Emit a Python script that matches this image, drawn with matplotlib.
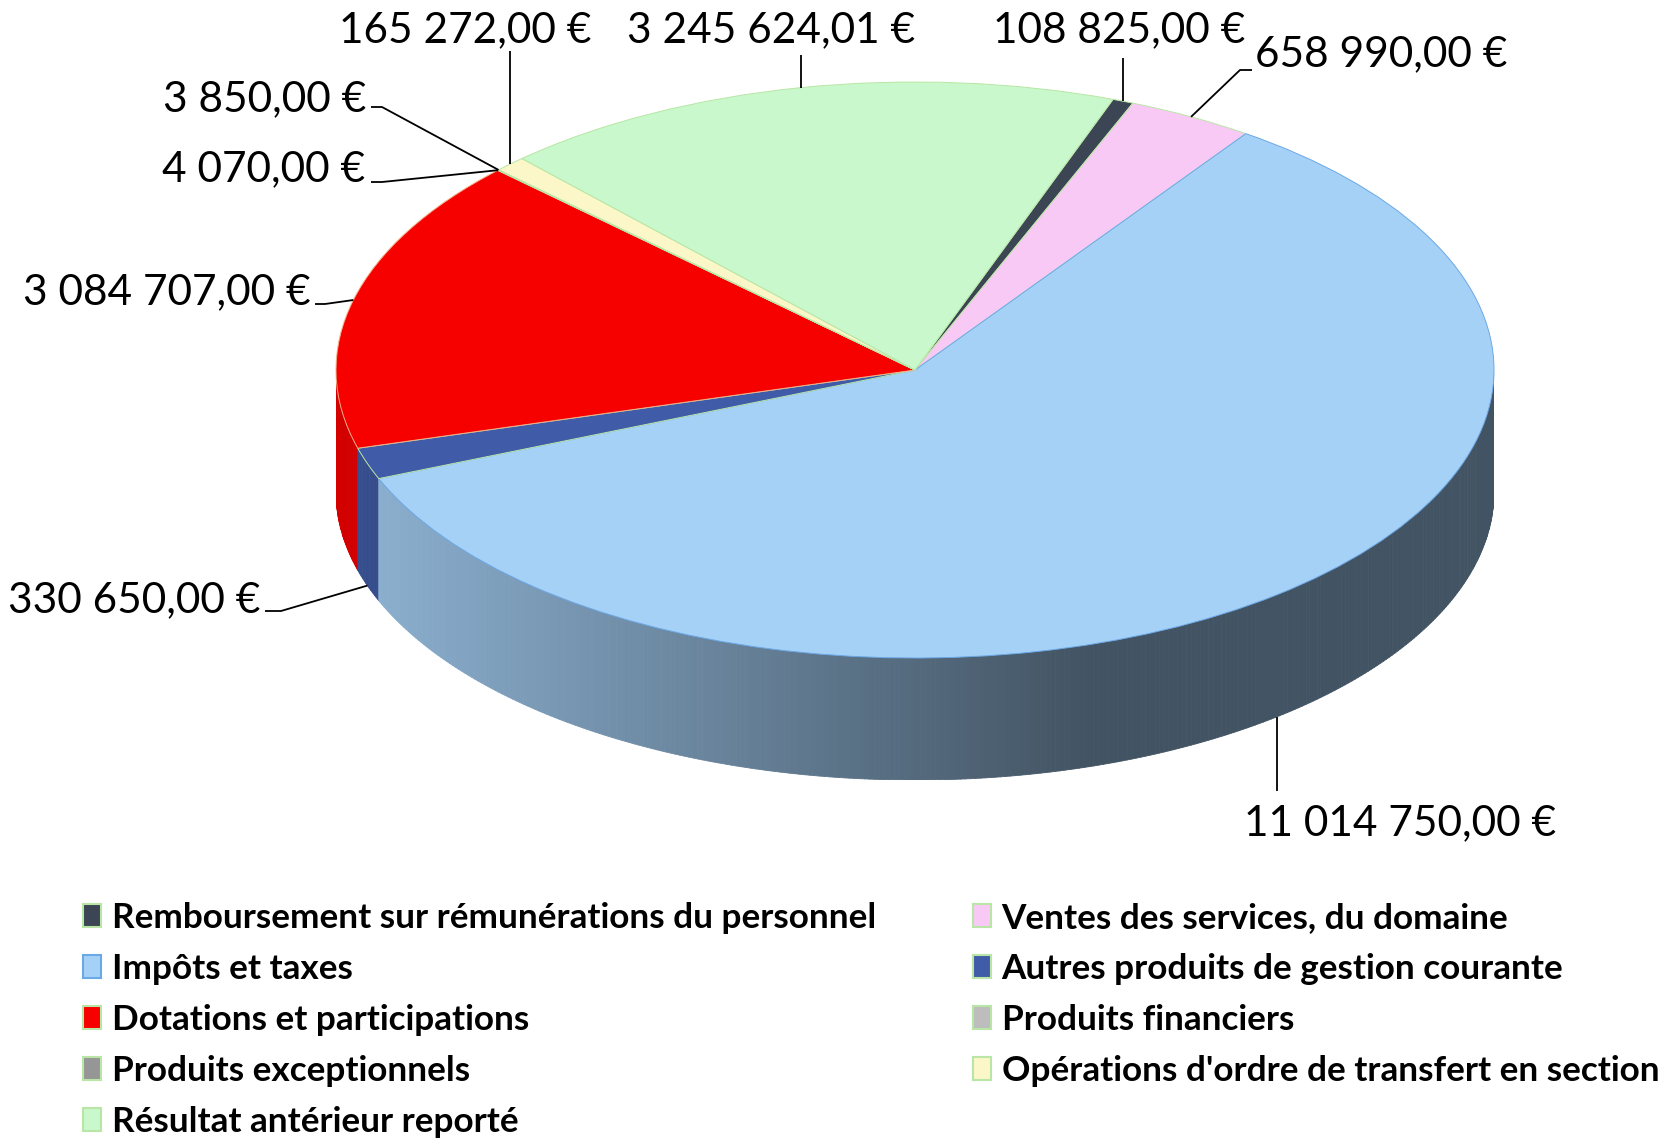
import numpy as np
import matplotlib
matplotlib.use("Agg")
import matplotlib.pyplot as plt
from matplotlib.collections import PolyCollection
from matplotlib.patches import Patch
from matplotlib.colors import to_rgb
from matplotlib.font_manager import FontProperties

# ---------------- data ----------------
categories = [
    "Remboursement sur rémunérations du personnel",
    "Ventes des services, du domaine",
    "Impôts et taxes",
    "Autres produits de gestion courante",
    "Dotations et participations",
    "Produits financiers",
    "Produits exceptionnels",
    "Opérations d'ordre de transfert en section",
    "Résultat antérieur reporté",
]
values = [108825.00, 658990.00, 11014750.00, 330650.00, 3084707.00,
          4070.00, 3850.00, 165272.00, 3245624.01]
colors = ["#3c4553", "#f9c9f5", "#a6d1f7", "#405ca8", "#f70000",
          "#bdbdbd", "#969696", "#fbf7c8", "#c8f8cb"]
edge_colors = ["#b9e6a6", "#b9e6a6", "#6aa8e6", "#b9e6a6", "#f2b08a",
               "#b9e6a6", "#b9e6a6", "#b9e6a6", "#b9e6a6"]
legend_order = [0, 2, 4, 6, 8, 1, 3, 5, 7]


def fmt_eur(v):
    s = f"{v:,.2f}".replace(",", " ").replace(".", ",")
    return s + " €"


# ---------------- layout ----------------
W, H = 1664, 1141
CX, CY, A, B, DEPTH = 915, 370, 579, 288, 122
START = 70

# label layout: text position (px, top-left origin), alignment, leader path
label_layout = [
    dict(xy=(1119, 42.5), ha="center", path=[(None, 58)]),
    dict(xy=(1255, 66), ha="left", path=[(1240, 70), (1252, 70)]),
    dict(xy=(1400, 835), ha="center", path=[(None, 791)]),
    dict(xy=(260, 612), ha="right", path=[(281, 611), (265, 611)]),
    dict(xy=(311, 304.6), ha="right", path=[(325, 304), (315, 304)]),
    dict(xy=(365, 181.5), ha="right", path=[(382, 182), (371, 182)]),
    dict(xy=(366, 111), ha="right", path=[(382, 107), (371, 107)]),
    dict(xy=(465.5, 42.5), ha="center", path=[(None, 51)]),
    dict(xy=(771, 42.5), ha="center", path=[(None, 55)]),
]

fig = plt.figure(figsize=(W / 100, H / 100), dpi=100)
d = DEPTH / B
ax = fig.add_axes([(CX - A) / W, (H - (CY + B + DEPTH)) / H,
                   2 * A / W, (2 * B + DEPTH) / H])

wedges, _ = ax.pie(values, colors=colors, startangle=START,
                   counterclock=False, radius=1,
                   wedgeprops=dict(linewidth=0.7))
for w, ec in zip(wedges, edge_colors):
    w.set_edgecolor(ec)
    w.set_zorder(2)
ax.set_aspect("auto")
ax.set_xlim(-1, 1)
ax.set_ylim(-1 - d, 1)
ax.axis("off")

# ---------------- side wall (front half) ----------------
def wedge_at(t):
    for i, w in enumerate(wedges):
        span = w.theta2 - w.theta1
        if (t - w.theta1) % 360 < span:
            return i
    return 0


def shade(u):
    return 0.86 - (0.86 - 0.40) * min(u / 0.65, 1.0)


breaks = set(np.arange(180, 360.001, 0.5).tolist())
for w in wedges:
    for th in (w.theta1, w.theta2):
        tt = th % 360
        if 180 < tt < 360:
            breaks.add(tt)
breaks = sorted(breaks)
polys, fcs = [], []
for t0, t1 in zip(breaks[:-1], breaks[1:]):
    tm = 0.5 * (t0 + t1)
    i = wedge_at(tm)
    r0, r1 = np.radians(t0), np.radians(t1)
    polys.append([(np.cos(r0), np.sin(r0)), (np.cos(r1), np.sin(r1)),
                  (np.cos(r1), np.sin(r1) - d), (np.cos(r0), np.sin(r0) - d)])
    u = (np.cos(np.radians(tm)) + 1) / 2
    f = shade(u)
    fcs.append(tuple(np.clip(np.array(to_rgb(colors[i])) * f, 0, 1)))
wall = PolyCollection(polys, facecolors=fcs, edgecolors=fcs, linewidths=0.6,
                      zorder=1)
ax.add_collection(wall)

# ---------------- labels ----------------
ov = fig.add_axes([0, 0, 1, 1])
ov.set_xlim(0, W)
ov.set_ylim(H, 0)
ov.axis("off")


def to_px(x, y):
    dx, dy = ax.transData.transform((x, y))
    return dx, H - dy


lab_font = FontProperties(family="Lato", size=30.5)
for i, (w, lay) in enumerate(zip(wedges, label_layout)):
    mid = np.radians(0.5 * (w.theta1 + w.theta2))
    x, y = np.cos(mid), np.sin(mid)
    if y < 0:
        y = y - d
    axp, ayp = to_px(x, y)
    pts = [(axp, ayp)] + [(axp if px is None else px, py) for px, py in lay["path"]]
    ov.plot([p[0] for p in pts], [p[1] for p in pts], color="black", lw=1.3,
            solid_capstyle="butt")
    ov.text(lay["xy"][0], lay["xy"][1], fmt_eur(values[i]), ha=lay["ha"],
            va="baseline", fontproperties=lab_font, color="black")

# ---------------- legend ----------------
handles = [Patch(facecolor=colors[i], edgecolor=edge_colors[i] if i != 4 else "#b9e6a6",
                 linewidth=1.5) for i in legend_order]
labels = [categories[i] for i in legend_order]
fig.legend(handles, labels, loc="upper left",
           bbox_to_anchor=(83 / W, (H - 902) / H), ncol=2, frameon=False,
           prop=FontProperties(family="Lato", weight="bold", size=25.3),
           handlelength=0.52, handleheight=0.6, handletextpad=0.3,
           labelspacing=0.54, columnspacing=2.75, borderpad=0, borderaxespad=0)

fig.savefig("out.png", dpi=100)
